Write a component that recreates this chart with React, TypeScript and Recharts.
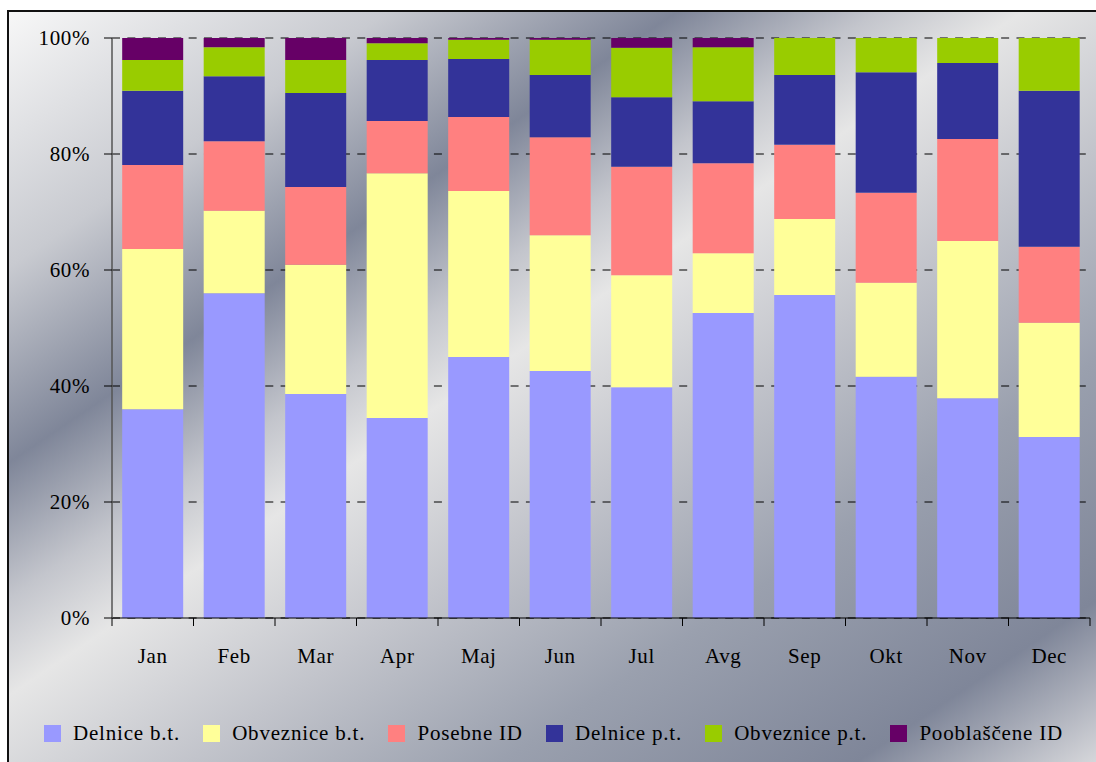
import React from 'react';
import { BarChart, Bar, XAxis, YAxis, CartesianGrid } from 'recharts';

const MONTHS = ['Jan', 'Feb', 'Mar', 'Apr', 'Maj', 'Jun', 'Jul', 'Avg', 'Sep', 'Okt', 'Nov', 'Dec'];
const DELNICE_BT = [36.0, 56.0, 38.6, 34.5, 45.0, 42.6, 39.8, 52.6, 55.7, 41.6, 37.9, 31.2];
const OBVEZNICE_BT = [27.6, 14.2, 22.3, 42.2, 28.6, 23.4, 19.3, 10.3, 13.1, 16.2, 27.1, 19.7];
const POSEBNE_ID = [14.5, 12.0, 13.4, 9.0, 12.8, 16.9, 18.7, 15.5, 12.8, 15.5, 17.6, 13.1];
const DELNICE_PT = [12.8, 11.2, 16.2, 10.5, 10.0, 10.7, 12.0, 10.7, 12.0, 20.8, 13.1, 26.9];
const OBVEZNICE_PT = [5.3, 5.0, 5.7, 2.9, 3.3, 6.1, 8.5, 9.3, 6.4, 5.9, 4.3, 9.1];
const POOBLASCENE_ID = [3.8, 1.6, 3.8, 0.9, 0.3, 0.3, 1.7, 1.6, 0, 0, 0, 0];
const Y_TICKS = [0, 20, 40, 60, 80, 100];

const SERIES = [
  { key: 'dbt', name: 'Delnice b.t.', color: '#9999FF', values: DELNICE_BT },
  { key: 'obt', name: 'Obveznice b.t.', color: '#FFFF99', values: OBVEZNICE_BT },
  { key: 'pid', name: 'Posebne ID', color: '#FF8080', values: POSEBNE_ID },
  { key: 'dpt', name: 'Delnice p.t.', color: '#333399', values: DELNICE_PT },
  { key: 'opt', name: 'Obveznice p.t.', color: '#99CC00', values: OBVEZNICE_PT },
  { key: 'pooid', name: 'Pooblaščene ID', color: '#660066', values: POOBLASCENE_ID },
];

const data = MONTHS.map((month, i) => {
  const row: any = { month };
  SERIES.forEach(s => { row[s.key] = s.values[i]; });
  return row;
});

const FONT = '"Liberation Serif", "DejaVu Serif", serif';
const W = 1096;
const H = 762;
const PLOT_LEFT = 112;
const PLOT_RIGHT = 1090;
const BAND = (PLOT_RIGHT - PLOT_LEFT) / MONTHS.length;

const XTick = ({ x, y, payload, index }: any) => (
  <g>
    {index === 0 && <line x1={x - BAND / 2} y1={y - 8} x2={x - BAND / 2} y2={y} stroke="#000" />}
    <line x1={x + BAND / 2} y1={y - 8} x2={x + BAND / 2} y2={y} stroke="#000" />
    <text x={x} y={y + 37} textAnchor="middle" fill="#000" fontSize={21} fontFamily={FONT} letterSpacing={0.6}>
      {payload.value}
    </text>
  </g>
);

const App = () => {
  return (
    <div style={{ position: 'relative', width: W, height: H, overflow: 'hidden', fontFamily: FONT }}>
      <style>{'body{margin:0;overflow:hidden}'}</style>
      <div
        style={{
          position: 'absolute',
          left: 7,
          top: 10,
          width: 1100,
          height: 760,
          border: '2px solid #111',
          background:
            'linear-gradient(146deg, #f7f7f7 0%, #c8cad0 17%, #7f8699 30%, #c3c5cc 39%, #e6e6e6 45.5%, #c2c4cb 58%, #9aa0ae 72%, #7f8699 88%, #e0e0e2 100%)',
        }}
      />
      <div style={{ position: 'absolute', left: 0, top: 0 }}>
        <BarChart
          width={W}
          height={H}
          data={data}
          margin={{ top: 38, right: W - PLOT_RIGHT, bottom: 104, left: PLOT_LEFT - 60 }}
          barCategoryGap="12.5%"
        >
          <CartesianGrid vertical={false} stroke="#000" strokeDasharray="8 7.33" />
          <XAxis
            dataKey="month"
            axisLine={{ stroke: '#000', strokeWidth: 1.2 }}
            tickLine={false}
            tickSize={8}
            tickMargin={0}
            height={40}
            interval={0}
            tick={<XTick />}
          />
          <YAxis
            width={60}
            domain={[0, 100]}
            ticks={Y_TICKS}
            allowDataOverflow
            tickFormatter={(v: number) => `${v}%`}
            axisLine={{ stroke: '#555', strokeWidth: 1.5 }}
            tickLine={{ stroke: '#000' }}
            tickSize={8}
            tickMargin={14}
            tick={{ fill: '#000', fontSize: 21, fontFamily: FONT, letterSpacing: 0.6 }}
          />
          {SERIES.map(s => (
            <Bar key={s.key} dataKey={s.key} name={s.name} stackId="a" fill={s.color} isAnimationActive={false} />
          ))}
        </BarChart>
      </div>
      <div
        style={{
          position: 'absolute',
          left: 44,
          top: 721,
          width: 1019,
          display: 'flex',
          justifyContent: 'space-between',
          alignItems: 'center',
          fontSize: 21,
          letterSpacing: 0.8,
          color: '#000',
          whiteSpace: 'nowrap',
        }}
      >
        {SERIES.map(s => (
          <div key={s.key} style={{ display: 'flex', alignItems: 'center' }}>
            <span style={{ width: 17, height: 17, background: s.color, display: 'inline-block', marginRight: 12 }} />
            <span>{s.name}</span>
          </div>
        ))}
      </div>
    </div>
  );
};

export default App;
